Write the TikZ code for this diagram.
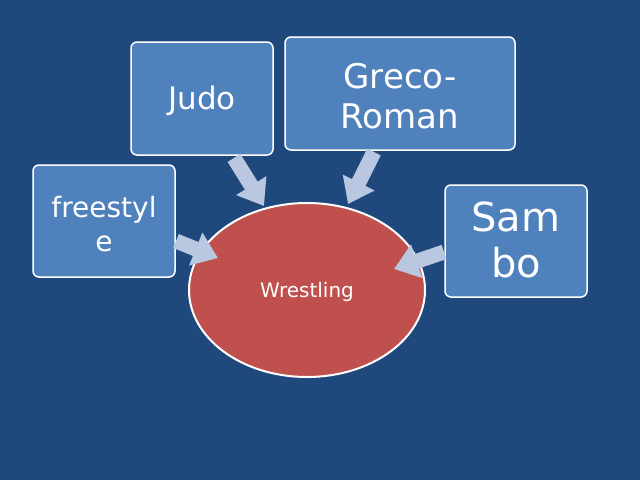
\documentclass[tikz,border=0pt]{standalone}
\usepackage{fontspec}
\setmainfont{DejaVu Sans}
\usetikzlibrary{arrows.meta,shapes.geometric}
\definecolor{bg}{HTML}{1F497D}
\definecolor{boxc}{HTML}{4F81BD}
\definecolor{ellc}{HTML}{C0504D}
\definecolor{arrc}{HTML}{B9C8E0}
\begin{document}
\begin{tikzpicture}[x=1pt,y=-1pt,
  boxn/.style={draw=white,line width=1.5pt,fill=boxc,rounded corners=6pt,text=white,align=center},
  arr/.style={arrc,line width=15pt,-{Triangle[width=34pt,length=24pt]}}]
\fill[bg] (0,0) rectangle (640,480);
\useasboundingbox (0,0) rectangle (640,480);
\node[boxn,minimum width=142pt,minimum height=113pt] (judo) at (202,98.5) {};
\node[text=white,font=\fontsize{31}{36}\selectfont] (judot) at (202,101) {Judo};
\node[boxn,minimum width=230pt,minimum height=113pt] (greco) at (400,93.5) {};
\node[text=white,font=\fontsize{34}{40}\selectfont,align=center] (grecot) at (400,96) {Greco-\\Roman};
\node[boxn,minimum width=142pt,minimum height=112pt] (free) at (104,221) {};
\node[text=white,font=\fontsize{28}{34}\selectfont,align=center] (freet) at (104,224) {freestyl\\e};
\node[boxn,minimum width=142pt,minimum height=112pt] (sambo) at (516,241) {};
\node[text=white,font=\fontsize{40}{46}\selectfont,align=center] (sambot) at (516,240) {Sam\\bo};
\node[draw=white,line width=2pt,fill=ellc,ellipse,minimum width=236pt,minimum height=174pt,inner sep=0pt] (wr) at (307,290) {};
\node[text=white,font=\fontsize{20}{24}\selectfont] (wrt) at (307,292) {Wrestling};
\coordinate (j1) at (234,158); \coordinate (j2) at (264,206);
\coordinate (g1) at (374,152); \coordinate (g2) at (348,204);
\coordinate (f1) at (176,241); \coordinate (f2) at (218,258);
\coordinate (s1) at (444,252); \coordinate (s2) at (394,269);
\draw[arr] (j1) -- (j2);
\draw[arr] (g1) -- (g2);
\draw[arr] (f1) -- (f2);
\draw[arr] (s1) -- (s2);
\end{tikzpicture}
\end{document}
